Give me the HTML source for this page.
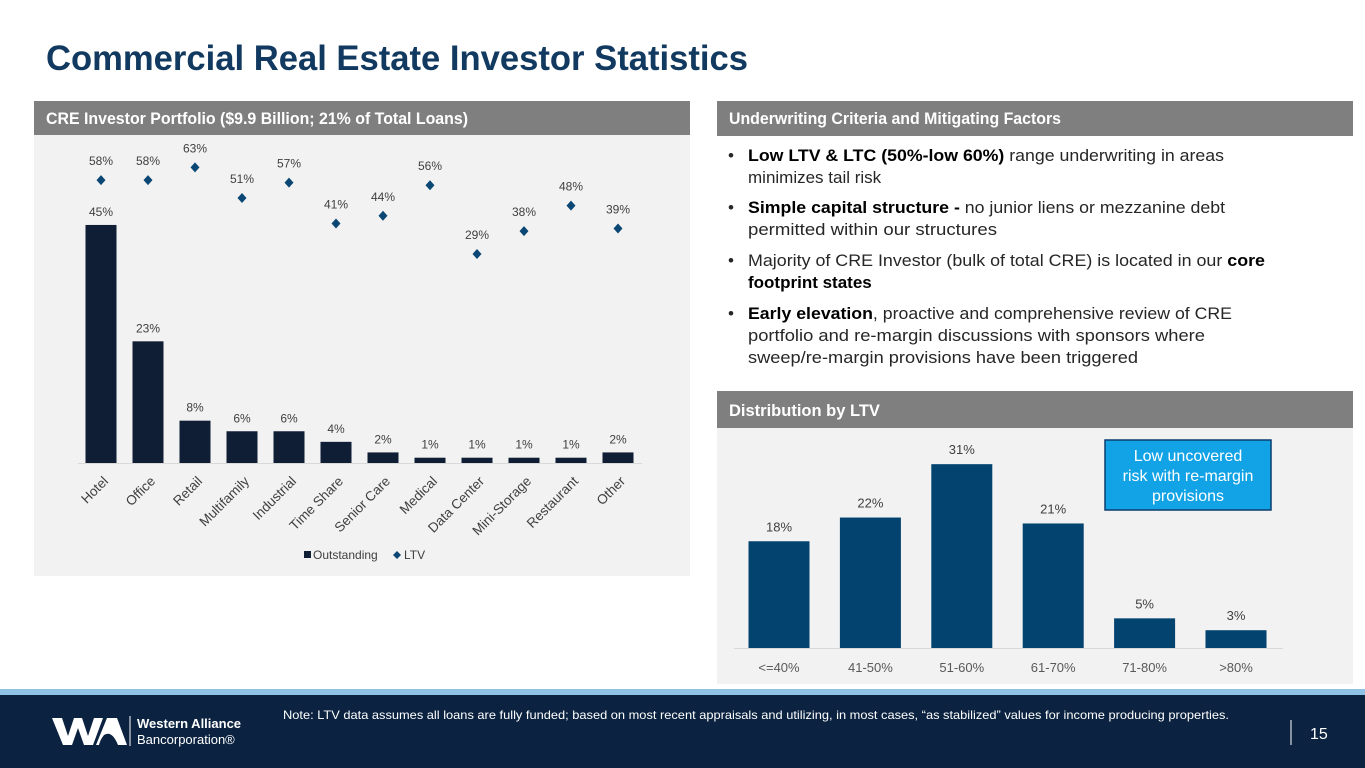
<!DOCTYPE html>
<html><head><meta charset="utf-8"><style>
html,body{margin:0;padding:0;background:#fff;}
svg{display:block;font-family:"Liberation Sans",sans-serif;}
</style></head><body>
<svg id="s" width="1365" height="768" viewBox="0 0 1365 768">
<text x="46" y="70" font-size="35" font-weight="bold" fill="#123a60" textLength="702" lengthAdjust="spacingAndGlyphs">Commercial Real Estate Investor Statistics</text>

<rect x="34" y="101" width="656" height="34" fill="#7f7f7f"/>
<text x="46" y="124" font-size="16.5" font-weight="bold" fill="#fff" textLength="422" lengthAdjust="spacingAndGlyphs">CRE Investor Portfolio ($9.9 Billion; 21% of Total Loans)</text>
<rect x="34" y="135" width="656" height="441" fill="#f2f2f2"/>
<g id="cre"></g>

<rect x="717" y="101" width="636" height="35" fill="#7f7f7f"/>
<text x="729" y="124" font-size="16.5" font-weight="bold" fill="#fff" textLength="332" lengthAdjust="spacingAndGlyphs">Underwriting Criteria and Mitigating Factors</text>
<g font-size="17" fill="#262626">
<text x="728" y="161">•</text><text x="748" y="161" textLength="476" lengthAdjust="spacingAndGlyphs"><tspan font-weight="bold" fill="#000">Low LTV &amp; LTC (50%-low 60%)</tspan> range underwriting in areas</text>
<text x="748" y="183">minimizes tail risk</text>
<text x="728" y="213">•</text><text x="748" y="213" textLength="477" lengthAdjust="spacingAndGlyphs"><tspan font-weight="bold" fill="#000">Simple capital structure -</tspan> no junior liens or mezzanine debt</text>
<text x="748" y="235" textLength="249" lengthAdjust="spacingAndGlyphs">permitted within our structures</text>
<text x="728" y="266">•</text><text x="748" y="266" textLength="517" lengthAdjust="spacingAndGlyphs">Majority of CRE Investor (bulk of total CRE) is located in our <tspan font-weight="bold" fill="#000">core</tspan></text>
<text x="748" y="288" font-weight="bold" fill="#000">footprint states</text>
<text x="728" y="319">•</text><text x="748" y="319" textLength="484" lengthAdjust="spacingAndGlyphs"><tspan font-weight="bold" fill="#000">Early elevation</tspan>, proactive and comprehensive review of CRE</text>
<text x="748" y="341" textLength="457" lengthAdjust="spacingAndGlyphs">portfolio and re-margin discussions with sponsors where</text>
<text x="748" y="363" textLength="390" lengthAdjust="spacingAndGlyphs">sweep/re-margin provisions have been triggered</text>
</g>

<rect x="717" y="391" width="636" height="37" fill="#7f7f7f"/>
<text x="729" y="416" font-size="16.5" font-weight="bold" fill="#fff">Distribution by LTV</text>
<rect x="717" y="428" width="636" height="256" fill="#f2f2f2"/>
<g id="ltv"></g>
<rect x="1105" y="440" width="166" height="70" fill="#12a3e6" stroke="#0b3c6e" stroke-width="1.5"/>
<g font-size="16" fill="#fff" text-anchor="middle">
<text x="1188" y="461">Low uncovered</text><text x="1188" y="481">risk with re-margin</text><text x="1188" y="501">provisions</text></g>

<rect x="0" y="689" width="1365" height="6" fill="#8fc3e6"/>
<rect x="0" y="695" width="1365" height="73" fill="#0b2340"/>
<g>
<path d="M52 718 L62 718 L68 736 L74 718 L82 718 L88 736 L94 718 L103 718 L93 745 L84 745 L78 728 L72 745 L63 745 Z" fill="#fff"/>
<path d="M96 745 L107 718 L117 718 L127 745 L118 745 Q112 730 104 735 Q100 740 99 745 Z" fill="#fff"/>
<line x1="130" y1="716" x2="130" y2="746" stroke="#fff" stroke-width="1"/>
<text x="137" y="728" font-size="13" font-weight="bold" fill="#fff">Western Alliance</text>
<text x="137" y="744" font-size="13" fill="#fff">Bancorporation®</text>
</g>
<text x="283" y="719" font-size="12" fill="#fff" textLength="946" lengthAdjust="spacingAndGlyphs">Note: LTV data assumes all loans are fully funded; based on most recent appraisals and utilizing, in most cases, “as stabilized” values for income producing properties.</text>
<line x1="1291" y1="720" x2="1291" y2="745" stroke="#fff" stroke-width="1"/>
<text x="1310" y="739" font-size="16" fill="#fff">15</text>
</svg>
<script>
const creCategories=["Hotel","Office","Retail","Multifamily","Industrial","Time Share","Senior Care","Medical","Data Center","Mini-Storage","Restaurant","Other"];
const creOutstanding=[45,23,8,6,6,4,2,1,1,1,1,2];
const creLTV=[58,58,63,51,57,41,44,56,29,38,48,39];
const ltvCategories=["<=40%","41-50%","51-60%","61-70%","71-80%",">80%"];
const ltvShares=[18,22,31,21,5,3];
const NS="http://www.w3.org/2000/svg";
function mk(p,tag,a){const e=document.createElementNS(NS,tag);for(const k in a)e.setAttribute(k,a[k]);p.appendChild(e);return e;}
const cre=document.getElementById('cre');
const cx=i=>101+i*47;
const yBar=v=>463-v*5.29;
const yLtv=v=>328-v*2.55;
mk(cre,'line',{x1:78,y1:463.5,x2:642,y2:463.5,stroke:'#d9d9d9','stroke-width':1});
creCategories.forEach((c,i)=>{
  const r=mk(cre,'rect',{x:cx(i)-15.5,y:yBar(creOutstanding[i]),width:31,height:463-yBar(creOutstanding[i]),fill:'#0f1d35'});
  
  
  const t=mk(cre,'text',{x:cx(i),y:yBar(creOutstanding[i])-9,'font-size':12,fill:'#404040','text-anchor':'middle'});
  t.textContent=creOutstanding[i]+'%';
  
  
  const y=yLtv(creLTV[i]);
  const d=mk(cre,'path',{d:`M${cx(i)} ${y-5}L${cx(i)+4.5} ${y}L${cx(i)} ${y+5}L${cx(i)-4.5} ${y}Z`,fill:'#0b4774'});
  
  
  const lt=mk(cre,'text',{x:cx(i),y:y-15,'font-size':12,fill:'#404040','text-anchor':'middle'});
  lt.textContent=creLTV[i]+'%';
  
  
  const xl=mk(cre,'text',{x:cx(i)+8,y:482,'font-size':13.5,fill:'#404040','text-anchor':'end',transform:`rotate(-45 ${cx(i)+8} 482)`});
  xl.textContent=c;
  
  
});
const lg=mk(cre,'g',{});


mk(lg,'rect',{x:304,y:551,width:7,height:7,fill:'#0f1d35'});
mk(lg,'text',{x:313,y:559,'font-size':12,fill:'#404040'}).textContent='Outstanding';
mk(lg,'path',{d:'M397 551L401 555L397 559L393 555Z',fill:'#0b4774'});
mk(lg,'text',{x:404,y:559,'font-size':12,fill:'#404040'}).textContent='LTV';
const ltv=document.getElementById('ltv');
const lx=i=>779+i*91.4;
const ly=v=>648-v*5.93;
mk(ltv,'line',{x1:734,y1:648.5,x2:1283,y2:648.5,stroke:'#d9d9d9','stroke-width':1});
ltvCategories.forEach((c,i)=>{
  const r=mk(ltv,'rect',{x:lx(i)-30.5,y:ly(ltvShares[i]),width:61,height:648-ly(ltvShares[i]),fill:'#02436f'});
  
  
  const t=mk(ltv,'text',{x:lx(i),y:ly(ltvShares[i])-10,'font-size':13,fill:'#404040','text-anchor':'middle'});
  t.textContent=ltvShares[i]+'%';
  
  
  const xl=mk(ltv,'text',{x:lx(i),y:672,'font-size':13,fill:'#595959','text-anchor':'middle'});
  xl.textContent=c;
  
  
});
</script>
</body></html>
